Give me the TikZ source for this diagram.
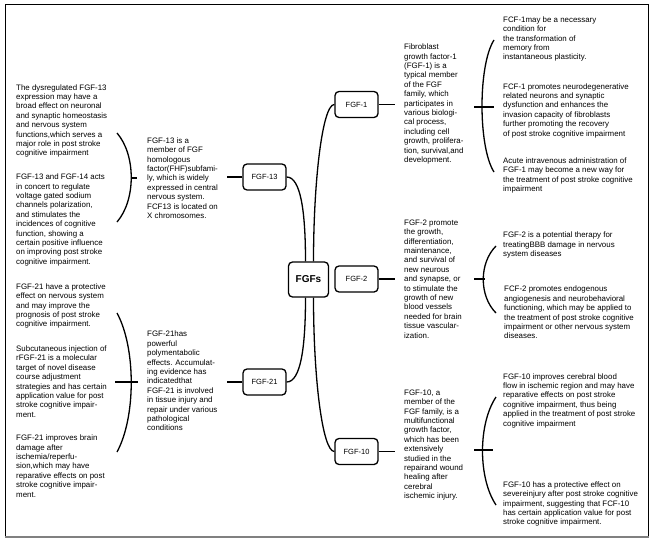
\documentclass[tikz,border=0pt]{standalone}
\usepackage{fontspec}
\setmainfont{Liberation Sans}
\usetikzlibrary{calc}

\tikzset{
  hub/.style={draw, rounded corners=4pt, line width=1.3pt, minimum width=40pt, minimum height=35pt, font=\bfseries\fontsize{10}{12}\selectfont},
  fgfbox/.style={draw, rounded corners=4pt, line width=1.3pt, minimum width=43pt, minimum height=26pt, font=\fontsize{7.5}{9}\selectfont},
  infotext/.style={align=left, anchor=west, inner sep=0pt, font=\fontsize{7.9}{9.4}\selectfont},
  link/.style={line width=1.3pt},
}

\begin{document}
\begin{tikzpicture}[x=1pt, y=-1pt]
\useasboundingbox (0,0) rectangle (653,543);
% Frame
\draw[line width=1pt] (5,5) rectangle (648,537);
\draw[gray, line width=2.5pt] (5,537) -- (649,537);

% Centre and the five FGF boxes
\node[hub] (fgfs) at (308.5,279.5) {FGFs};
\node[fgfbox] (f13) at (264.5,177) {FGF-13};
\node[fgfbox] (f21) at (264.5,382) {FGF-21};
\node[fgfbox] (f1) at (356.5,104.5) {FGF-1};
\node[fgfbox] (f2) at (356.5,279) {FGF-2};
\node[fgfbox] (f10) at (356.5,451.5) {FGF-10};

% Branches from the centre
\draw[link] ([xshift=-3pt]fgfs.north) .. controls +(0,-50) and +(14,0) .. (f13.east);
\draw[link] ([xshift=5pt]fgfs.north) .. controls +(0,-80) and +(-12,0) .. (f1.west);
\draw[link] ([xshift=-3pt]fgfs.south) .. controls +(0,50) and +(14,0) .. (f21.east);
\draw[link] ([xshift=5pt]fgfs.south) .. controls +(0,80) and +(-12,0) .. (f10.west);

% Descriptions next to the boxes
\node[infotext] (d13) at (147,178) {FGF-13 is a\\member of FGF\\homologous\\factor(FHF)subfami-\\ly, which is widely\\expressed in central\\nervous system.\\FCF13 is located on\\X chromosomes.};
\node[infotext] (d21) at (147,381) {FGF-21has\\powerful\\polymentabolic\\effects. Accumulat-\\ing evidence has\\indicatedthat\\FGF-21 is involved\\in tissue injury and\\repair under various\\pathological\\conditions};
\node[infotext] (d1) at (404,104) {Fibroblast\\growth factor-1\\(FGF-1) is a\\typical member\\of the FGF\\family, which\\participates in\\various biologi-\\cal process,\\including cell\\growth, prolifera-\\tion, survival,and\\development.};
\node[infotext] (d2) at (404,279) {FGF-2 promote\\the growth,\\differentiation,\\maintenance,\\and survival of\\new neurous\\and synapse, or\\to stimulate the\\growth of new\\blood vessels\\needed for brain\\tissue vascular-\\ization.};
\node[infotext] (d10) at (404,445) {FGF-10, a\\member of the\\FGF family, is a\\multifunctional\\growth factor,\\which has been\\extensively\\studied in the\\repairand wound\\healing after\\cerebral\\ischemic injury.};

\draw[link, shorten >=9pt] (f13.west) -- (f13.west -| d13.east);
\draw[link, shorten >=9pt] (f21.west) -- (f21.west -| d21.east);
\draw[link, shorten >=9pt] (f1.east) -- (f1.east -| d1.west);
\draw[link, shorten >=9pt] (f2.east) -- (f2.east -| d2.west);
\draw[link, shorten >=9pt] (f10.east) -- (f10.east -| d10.west);

% Braces
\coordinate (b13) at (131,178);
\coordinate (b21) at (131,382);
\coordinate (b1) at (482,107);
\coordinate (b2) at (483,279);
\coordinate (b10) at (482,450);
\draw[link] (117,133) .. controls (136,155) and (136,200) .. (117,222);
\draw[link] (117,313) .. controls (136,348) and (136,417) .. (117,452);
\draw[link] (494,40) .. controls (478,65) and (478,147) .. (494,172);
\draw[link] (496,246) .. controls (479,263) and (479,296) .. (496,313);
\draw[link] (496,397) .. controls (478,424) and (478,478) .. (496,505);
\draw[link] (b13) -- ($(b13)+(6,0)$);
\draw[link] ($(b21)+(-16,0)$) -- ($(b21)+(7,0)$);
\draw[link] ($(b1)+(-8,0)$) -- ($(b1)+(12,0)$);
\draw[link] ($(b2)+(-9,0)$) -- ($(b2)+(2,0)$);
\draw[link] ($(b10)+(-8,0)$) -- ($(b10)+(11,0)$);

% Left column
\node[infotext] (t13a) at (16,121) {The dysregulated FGF-13\\expression may have a\\broad effect on neuronal\\and synaptic homeostasis\\and nervous system\\functions,which serves a\\major role in post stroke\\cognitive impairment};
\node[infotext] (t13b) at (16,220) {FGF-13 and FGF-14 acts\\in concert to regulate\\voltage gated sodium\\channels polarization,\\and stimulates the\\incidences of cognitive\\function, showing a\\certain positive influence\\on improving post stroke\\cognitive impairment.};
\node[infotext] (t21a) at (16,306) {FGF-21 have a protective\\effect on nervous system\\and may improve the\\prognosis of post stroke\\cognitive impairment.};
\node[infotext] (t21b) at (16,381.5) {Subcutaneous injection of\\rFGF-21 is a molecular\\target of novel disease\\course adjustment\\strategies and has certain\\application value for post\\stroke cognitive impair-\\ment.};
\node[infotext] (t21c) at (16,466) {FGF-21 improves brain\\damage after\\ischemia/reperfu-\\sion,which may have\\reparative effects on post\\stroke cognitive impair-\\ment.};

% Right column
\node[infotext] (t1a) at (503,39) {FCF-1may be a necessary\\condition for\\the transformation of\\memory from\\instantaneous plasticity.};
\node[infotext] (t1b) at (503,110.5) {FCF-1 promotes neurodegenerative\\related neurons and synaptic\\dysfunction and enhances the\\invasion capacity of fibroblasts\\further promoting the recovery\\of post stroke cognitive impairment};
\node[infotext] (t1c) at (503,175.5) {Acute intravenous administration of\\FGF-1 may become a new way for\\the treatment of post stroke cognitive\\impairment};
\node[infotext] (t2a) at (503,245) {FGF-2 is a potential therapy for\\treatingBBB damage in nervous\\system diseases};
\node[infotext] (t2b) at (504,312.5) {FCF-2 promotes endogenous\\angiogenesis and neurobehavioral\\functioning, which may be applied to\\the treatment of post stroke cognitive\\impairment or other nervous system\\diseases.};
\node[infotext] (t10a) at (503,400.5) {FGF-10 improves cerebral blood\\flow in ischemic region and may have\\reparative effects on post stroke\\cognitive impairment, thus being\\applied in the treatment of post stroke\\cognitive impairment};
\node[infotext] (t10b) at (503,504) {FGF-10 has a protective effect on\\severeinjury after post stroke cognitive\\impairment, suggesting that FCF-10\\has certain application value for post\\stroke cognitive impairment.};
\end{tikzpicture}
\end{document}
